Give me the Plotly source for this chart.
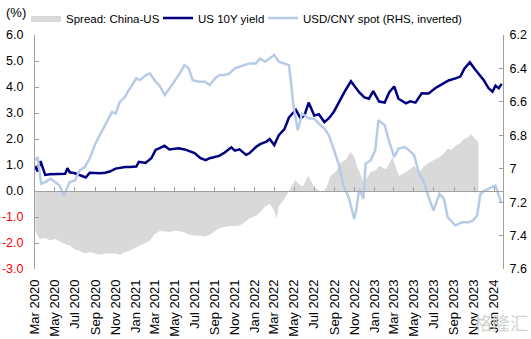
import plotly.graph_objects as go

# ---------------- data ----------------
spread_dates = [
    "2020-03-02", "2020-03-15", "2020-04-01", "2020-04-15", "2020-05-01", "2020-05-15",
    "2020-06-01", "2020-06-15", "2020-07-01", "2020-07-15", "2020-08-01", "2020-08-15",
    "2020-09-01", "2020-09-15", "2020-10-01", "2020-10-15", "2020-11-02", "2020-11-16",
    "2020-12-01", "2020-12-15", "2021-01-04", "2021-01-15", "2021-02-01", "2021-02-15",
    "2021-03-01", "2021-03-15", "2021-04-01", "2021-04-15", "2021-05-03", "2021-05-17",
    "2021-06-01", "2021-06-15", "2021-07-01", "2021-07-15", "2021-08-02", "2021-08-16",
    "2021-09-01", "2021-09-15", "2021-10-01", "2021-10-15", "2021-11-01", "2021-11-15",
    "2021-12-01", "2021-12-15", "2022-01-04", "2022-01-17", "2022-02-01", "2022-02-15",
    "2022-03-01", "2022-03-08", "2022-03-15", "2022-04-01", "2022-04-15", "2022-05-04",
    "2022-05-12", "2022-05-27", "2022-06-13", "2022-06-28", "2022-07-12", "2022-07-25",
    "2022-08-08", "2022-08-20", "2022-09-05", "2022-09-20", "2022-10-05", "2022-10-20",
    "2022-11-01", "2022-11-08", "2022-11-29", "2022-12-10", "2022-12-20", "2023-01-05",
    "2023-01-15", "2023-02-05", "2023-02-25", "2023-03-10", "2023-03-17", "2023-04-07",
    "2023-04-20", "2023-05-02", "2023-05-17", "2023-06-01", "2023-06-17", "2023-07-03",
    "2023-07-17", "2023-08-01", "2023-08-11", "2023-08-25", "2023-09-05", "2023-09-20",
    "2023-10-01", "2023-10-12", "2023-10-21", "2023-11-05", "2023-11-14",
]
spread_vals = [
    -1.55, -1.85, -1.80, -1.90, -1.85, -1.95,
    -2.05, -2.10, -2.25, -2.30, -2.40, -2.35,
    -2.40, -2.45, -2.40, -2.40, -2.40, -2.45,
    -2.35, -2.30, -2.15, -2.10, -2.00, -1.90,
    -1.65, -1.55, -1.55, -1.58, -1.52, -1.55,
    -1.60, -1.68, -1.70, -1.72, -1.75, -1.68,
    -1.55, -1.42, -1.38, -1.35, -1.35, -1.33,
    -1.20, -1.05, -0.95, -0.82, -0.60, -0.50,
    -0.75, -1.06, -0.60, -0.31, 0.00, 0.42,
    0.30, 0.17, 0.59, 0.21, 0.05, -0.06,
    0.15, 0.59, 0.75, 1.10, 1.20, 1.50,
    1.30, 0.97, 0.34, 0.55, 0.72, 0.80,
    0.97, 0.84, 1.30, 0.80, 0.59, 0.72,
    0.85, 0.97, 0.72, 0.95, 1.10, 1.20,
    1.30, 1.45, 1.62, 1.60, 1.74, 1.85,
    2.00, 2.05, 2.19, 2.00, 1.87,
]

us10y_dates = [
    "2020-03-02", "2020-03-09", "2020-03-18", "2020-04-01", "2020-04-15", "2020-05-01",
    "2020-05-15", "2020-06-01", "2020-06-08", "2020-06-15", "2020-07-01", "2020-07-15",
    "2020-08-03", "2020-08-15", "2020-09-01", "2020-09-15", "2020-10-01", "2020-10-15",
    "2020-11-02", "2020-11-15", "2020-12-01", "2020-12-15", "2021-01-04", "2021-01-12",
    "2021-02-01", "2021-02-19", "2021-03-04", "2021-03-18", "2021-03-31", "2021-04-15",
    "2021-05-01", "2021-05-13", "2021-06-01", "2021-06-13", "2021-07-01", "2021-07-19",
    "2021-08-04", "2021-08-16", "2021-09-01", "2021-09-14", "2021-10-01", "2021-10-21",
    "2021-11-01", "2021-11-15", "2021-12-05", "2021-12-15", "2022-01-05", "2022-01-17",
    "2022-02-05", "2022-02-15", "2022-03-01", "2022-03-15", "2022-04-01", "2022-04-15",
    "2022-05-06", "2022-05-20", "2022-06-01", "2022-06-14", "2022-07-01", "2022-07-15",
    "2022-08-01", "2022-08-15", "2022-08-30", "2022-09-15", "2022-10-01", "2022-10-21",
    "2022-11-01", "2022-11-15", "2022-12-01", "2022-12-15", "2022-12-28", "2023-01-15",
    "2023-02-01", "2023-02-15", "2023-03-02", "2023-03-15", "2023-04-07", "2023-04-20",
    "2023-05-06", "2023-05-25", "2023-06-15", "2023-07-05", "2023-07-25", "2023-08-15",
    "2023-09-05", "2023-09-20", "2023-10-02", "2023-10-19", "2023-11-01", "2023-11-15",
    "2023-12-01", "2023-12-15", "2023-12-27", "2024-01-05", "2024-01-15", "2024-01-24",
]
us10y_vals = [
    0.95, 0.75, 1.15, 0.62, 0.64, 0.64,
    0.65, 0.66, 0.88, 0.72, 0.68, 0.62,
    0.52, 0.70, 0.68, 0.68, 0.70, 0.75,
    0.86, 0.90, 0.92, 0.92, 0.94, 1.12,
    1.08, 1.26, 1.58, 1.66, 1.74, 1.60,
    1.63, 1.64, 1.60, 1.54, 1.46, 1.26,
    1.19, 1.26, 1.30, 1.35, 1.48, 1.68,
    1.55, 1.60, 1.39, 1.45, 1.70, 1.80,
    1.90, 2.00, 1.77, 2.15, 2.38, 2.83,
    3.12, 2.80, 2.90, 3.40, 2.90, 2.95,
    2.65, 2.80, 3.05, 3.45, 3.80, 4.22,
    4.05, 3.80, 3.60, 3.55, 3.84, 3.44,
    3.40, 3.80, 4.02, 3.55, 3.37, 3.45,
    3.40, 3.76, 3.75, 3.95, 4.10, 4.25,
    4.33, 4.40, 4.70, 4.95, 4.72, 4.50,
    4.25, 3.95, 3.82, 4.05, 3.95, 4.12,
]

cny_dates = [
    "2020-03-02", "2020-03-09", "2020-03-20", "2020-04-01", "2020-04-18", "2020-05-01",
    "2020-05-15", "2020-05-28", "2020-06-15", "2020-07-01", "2020-07-15", "2020-07-31",
    "2020-08-17", "2020-09-01", "2020-09-15", "2020-10-01", "2020-10-22", "2020-11-02",
    "2020-11-15", "2020-12-01", "2020-12-09", "2021-01-04", "2021-01-15", "2021-02-03",
    "2021-02-15", "2021-03-04", "2021-03-15", "2021-04-01", "2021-04-15", "2021-05-03",
    "2021-05-17", "2021-05-31", "2021-06-13", "2021-06-25", "2021-07-15", "2021-08-02",
    "2021-08-16", "2021-09-01", "2021-09-15", "2021-10-01", "2021-10-15", "2021-11-01",
    "2021-11-15", "2021-12-01", "2021-12-15", "2022-01-04", "2022-01-17", "2022-02-01",
    "2022-02-15", "2022-03-01", "2022-03-15", "2022-04-01", "2022-04-15", "2022-04-22",
    "2022-04-29", "2022-05-12", "2022-05-25", "2022-06-15", "2022-07-01", "2022-07-15",
    "2022-08-01", "2022-08-15", "2022-09-01", "2022-09-15", "2022-09-28", "2022-10-14",
    "2022-10-31", "2022-11-07", "2022-11-15", "2022-11-28", "2022-12-05", "2022-12-20",
    "2023-01-03", "2023-01-13", "2023-02-01", "2023-02-15", "2023-03-02", "2023-03-15",
    "2023-04-03", "2023-04-17", "2023-05-02", "2023-05-17", "2023-06-01", "2023-06-15",
    "2023-06-30", "2023-07-18", "2023-08-01", "2023-08-12", "2023-09-05", "2023-09-25",
    "2023-10-16", "2023-10-28", "2023-11-10", "2023-11-20", "2023-12-05", "2023-12-25",
    "2024-01-05", "2024-01-15", "2024-01-22",
]
cny_vals = [
    6.95, 6.93, 7.09, 7.08, 7.06, 7.08,
    7.10, 7.16, 7.08, 7.07, 7.01, 6.99,
    6.93, 6.85, 6.80, 6.74, 6.66, 6.67,
    6.60, 6.57, 6.54, 6.46, 6.47, 6.44,
    6.43, 6.48, 6.50, 6.56, 6.52, 6.47,
    6.43, 6.38, 6.40, 6.47, 6.48, 6.48,
    6.50, 6.46, 6.44, 6.44, 6.43, 6.40,
    6.39, 6.38, 6.37, 6.37, 6.34, 6.36,
    6.34, 6.32, 6.36, 6.37, 6.38, 6.50,
    6.63, 6.77, 6.67, 6.70, 6.70, 6.73,
    6.76, 6.80, 6.90, 6.98, 7.10, 7.17,
    7.30, 7.24, 7.12, 7.18, 6.97, 6.95,
    6.89, 6.71, 6.74, 6.84, 6.93, 6.88,
    6.87, 6.89, 6.92, 7.03, 7.08, 7.17,
    7.25, 7.15, 7.18, 7.29, 7.34, 7.32,
    7.32, 7.31, 7.28, 7.15, 7.13, 7.11,
    7.10, 7.16, 7.20,
]

x_tick_vals = [
    "2020-03-01", "2020-05-01", "2020-07-01", "2020-09-01", "2020-11-01",
    "2021-01-01", "2021-03-01", "2021-05-01", "2021-07-01", "2021-09-01", "2021-11-01",
    "2022-01-01", "2022-03-01", "2022-05-01", "2022-07-01", "2022-09-01", "2022-11-01",
    "2023-01-01", "2023-03-01", "2023-05-01", "2023-07-01", "2023-09-01", "2023-11-01",
    "2024-01-01",
]
x_tick_text = [
    "Mar 2020", "May 2020", "Jul 2020", "Sep 2020", "Nov 2020",
    "Jan 2021", "Mar 2021", "May 2021", "Jul 2021", "Sep 2021", "Nov 2021",
    "Jan 2022", "Mar 2022", "May 2022", "Jul 2022", "Sep 2022", "Nov 2022",
    "Jan 2023", "Mar 2023", "May 2023", "Jul 2023", "Sep 2023", "Nov 2023",
    "Jan 2024",
]
left_tick_vals = [-3, -2, -1, 0, 1, 2, 3, 4, 5, 6]
right_tick_vals = [6.2, 6.4, 6.6, 6.8, 7.0, 7.2, 7.4, 7.6]
right_tick_text = ["6.2", "6.4", "6.6", "6.8", "7", "7.2", "7.4", "7.6"]

# ---------------- styles ----------------
FONT = "Liberation Sans, Arial, sans-serif"
AXIS_GREY = "#a0a0a0"
W, H = 531, 339
left_tick_text = [
    (f'<span style="color:#ff0000">{v:.1f}</span>' if v < 0 else f"{v:.1f}")
    for v in left_tick_vals
]

fig = go.Figure()

fig.add_trace(go.Scatter(
    x=spread_dates, y=spread_vals, name="Spread: China-US",
    mode="lines", line=dict(width=0, color="#d9d9d9"),
    fill="tozeroy", fillcolor="#d9d9d9",
    xaxis="x", yaxis="y", legend="legend",
))
fig.add_trace(go.Scatter(
    x=us10y_dates, y=us10y_vals, name="US 10Y yield",
    mode="lines", line=dict(width=2.5, color="#000080"),
    xaxis="x", yaxis="y", legend="legend2",
))
fig.add_trace(go.Scatter(
    x=cny_dates, y=cny_vals, name="USD/CNY spot (RHS, inverted)",
    mode="lines", line=dict(width=2.5, color="#b7cbe6"),
    xaxis="x", yaxis="y2", legend="legend3",
))
# carrier for the zero-line category axis (no visible marks)
fig.add_trace(go.Scatter(
    x=[x_tick_vals[0]], y=[0], mode="none", showlegend=False,
    hoverinfo="skip", xaxis="x2", yaxis="y",
))

x_range = ["2020-03-01", "2024-01-28"]


def legend_at(px_left):
    return dict(
        orientation="h", x=px_left / W, y=1 - 18 / H,
        xref="container", yref="container",
        xanchor="left", yanchor="middle",
        font=dict(size=11.5, color="#000000", family=FONT),
        itemwidth=30, bgcolor="rgba(0,0,0,0)", borderwidth=0,
    )


fig.update_layout(
    width=W, height=H,
    margin=dict(l=35, r=28, t=35, b=70, autoexpand=False),
    paper_bgcolor="white", plot_bgcolor="white",
    font=dict(family=FONT, size=12, color="#000000"),
    showlegend=True,
    legend=legend_at(26),
    legend2=legend_at(158),
    legend3=legend_at(263),
    xaxis=dict(
        type="date", range=x_range, automargin=False,
        tickvals=x_tick_vals, ticktext=x_tick_text, tickangle=-90,
        tickfont=dict(size=13, family=FONT, color="#000000"),
        showline=False, ticks="", showgrid=False, zeroline=False,
        ticklabelstandoff=7, anchor="y",
    ),
    xaxis2=dict(
        type="date", matches="x", overlaying="x", anchor="free",
        position=1 / 3, automargin=False,
        tickvals=x_tick_vals, showticklabels=False,
        showline=True, linecolor=AXIS_GREY, linewidth=1,
        ticks="inside", ticklen=4, tickcolor=AXIS_GREY,
        showgrid=False, zeroline=False,
    ),
    yaxis=dict(
        range=[-3, 6], tickvals=left_tick_vals, ticktext=left_tick_text,
        tickfont=dict(size=12.5, family=FONT, color="#000000"),
        showline=True, linecolor=AXIS_GREY, linewidth=1,
        ticks="inside", ticklen=4, tickcolor=AXIS_GREY,
        ticklabelstandoff=8, automargin=False,
        showgrid=False, zeroline=False, anchor="x",
    ),
    yaxis2=dict(
        range=[7.6, 6.2], tickvals=right_tick_vals, ticktext=right_tick_text,
        tickfont=dict(size=12.5, family=FONT, color="#000000"),
        overlaying="y", side="right", anchor="x", automargin=False,
        showline=True, linecolor=AXIS_GREY, linewidth=1,
        ticks="inside", ticklen=4, tickcolor=AXIS_GREY,
        ticklabelstandoff=3,
        showgrid=False, zeroline=False,
    ),
    annotations=[
        dict(text="(%)", xref="paper", yref="paper", x=-0.066, y=1.098,
             xanchor="left", yanchor="middle", showarrow=False,
             font=dict(size=13, family=FONT, color="#000000")),
        dict(text="格隆汇", xref="paper", yref="paper", x=1.058, y=-0.225,
             xanchor="right", yanchor="middle", showarrow=False,
             font=dict(size=18, family="Noto Sans CJK SC", color="#d3d3d3")),
    ],
)

fig.write_html("out.html")
